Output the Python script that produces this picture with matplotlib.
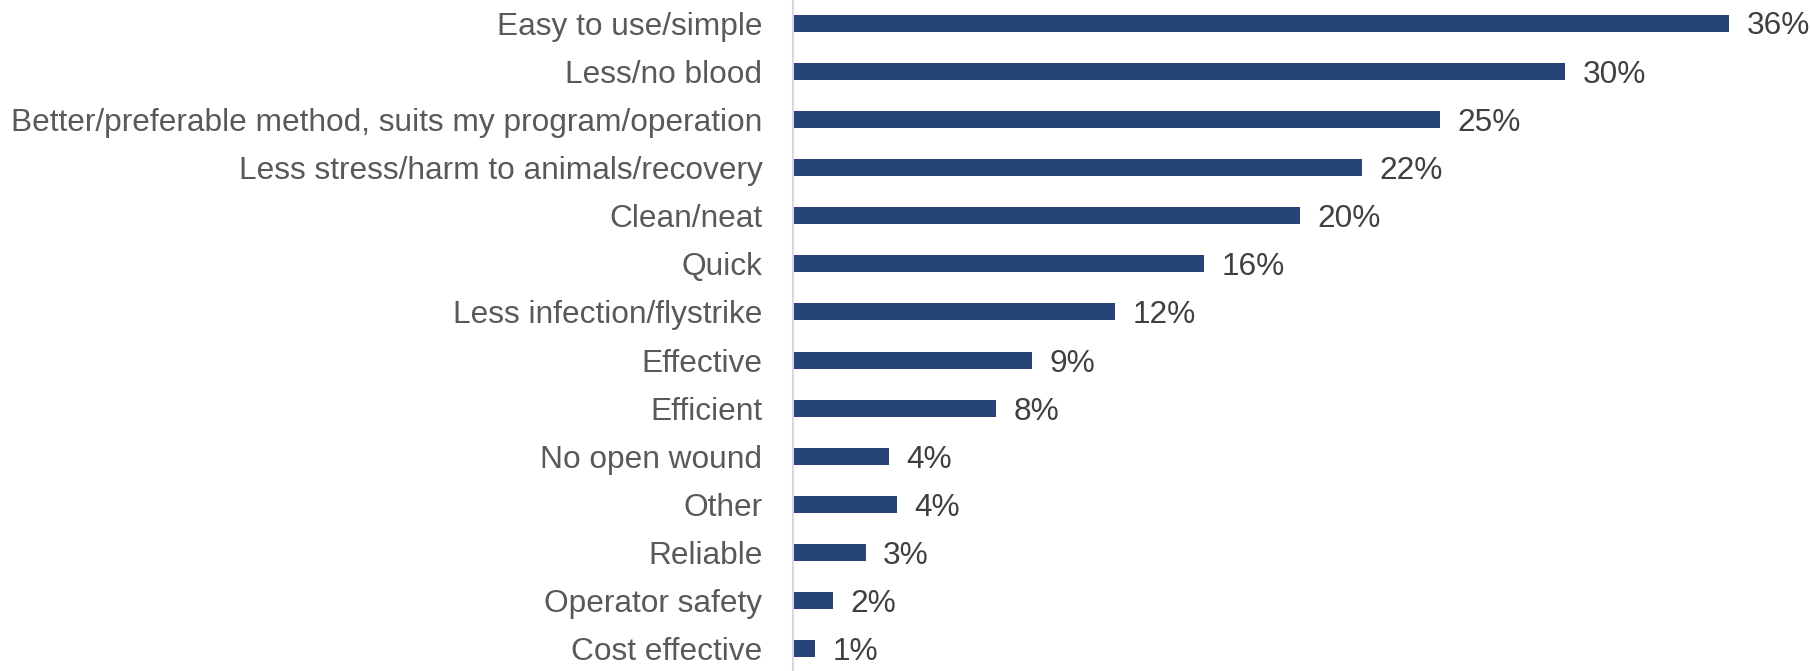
import matplotlib
matplotlib.use("Agg")
import matplotlib.pyplot as plt

categories = [
    "Easy to use/simple",
    "Less/no blood",
    "Better/preferable method, suits my program/operation",
    "Less stress/harm to animals/recovery",
    "Clean/neat",
    "Quick",
    "Less infection/flystrike",
    "Effective",
    "Efficient",
    "No open wound",
    "Other",
    "Reliable",
    "Operator safety",
    "Cost effective",
]
values = [36.0, 29.7, 24.9, 21.9, 19.5, 15.8, 12.4, 9.2, 7.8, 3.7, 4.0, 2.8, 1.54, 0.85]

W, H = 1811, 671
fig = plt.figure(figsize=(W / 100, H / 100), dpi=100)
left_px = 793
px_per_unit = 26.0
ax = fig.add_axes([left_px / W, 0, (W - left_px) / W, 1])

font = "Liberation Sans"
bar_color = "#264478"
fs = 22.8

ypos = list(range(len(categories)))
ax.barh(ypos, values, height=0.353, color=bar_color)

for y, v in zip(ypos, values):
    ax.annotate(f"{v:.0f}%", xy=(v, y), xytext=(12.5, -2.5), textcoords="offset points",
                va="center", ha="left", fontsize=fs, color="#404040", family=font)

ax.set_xlim(0, (W - left_px) / px_per_unit)
ax.set_ylim(13.457, -0.478)
ax.set_yticks(ypos)
ax.set_yticklabels(categories, fontsize=fs, color="#595959", family=font)
ax.tick_params(axis="y", length=0, pad=22)
ax.set_xticks([])

for side in ["top", "right", "bottom"]:
    ax.spines[side].set_visible(False)
ax.spines["left"].set_color("#d9d9d9")
ax.spines["left"].set_linewidth(1.5)

fig.savefig("out.png", dpi=100)
